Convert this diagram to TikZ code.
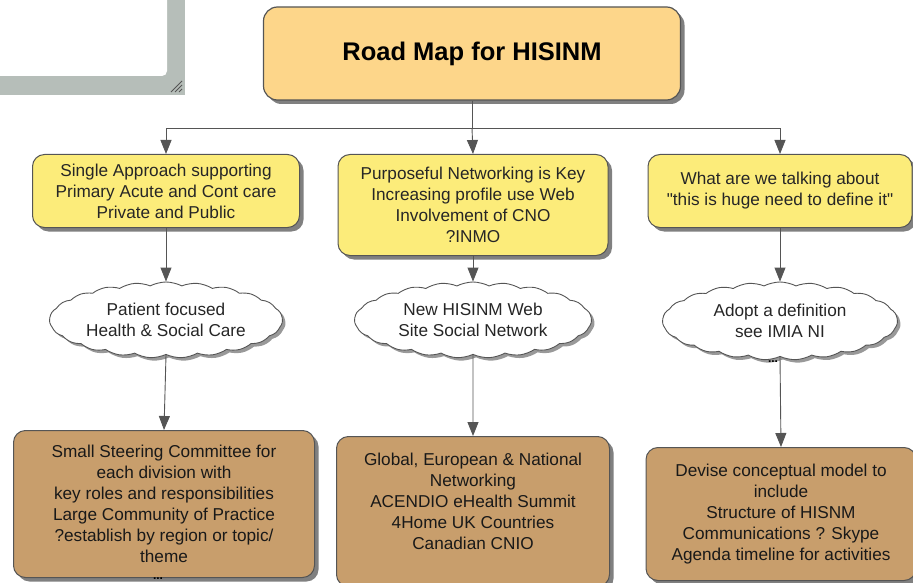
\documentclass[tikz,border=0pt]{standalone}
\usepackage{fontspec}
\setmainfont{Liberation Sans}[Ligatures=TeXOff]
\usetikzlibrary{shapes.symbols,shadows,arrows.meta}

\definecolor{headfill}{RGB}{253,214,138}
\definecolor{aimfill}{RGB}{252,236,122}
\definecolor{taskfill}{RGB}{200,158,108}
\definecolor{edgegray}{RGB}{85,85,85}
\definecolor{framegray}{RGB}{182,190,185}

\tikzstyle{boxshadow} = [drop shadow={shadow xshift=4pt, shadow yshift=-4pt, fill=black!50, opacity=1}]
\tikzstyle{headbox} = [rectangle, rounded corners=14pt, minimum width=417pt, minimum height=93pt, text centered, draw=edgegray, line width=1.2pt, fill=headfill, font=\fontsize{25.5}{30}\selectfont\bfseries, boxshadow]
\tikzstyle{aimbox} = [rectangle, rounded corners=12pt, anchor=north, align=center, draw=edgegray, line width=1pt, fill=aimfill, text=black!85, font=\fontsize{17.2}{21}\selectfont, boxshadow]
\tikzstyle{idea} = [cloud, cloud puffs=23, cloud puff arc=55, cloud ignores aspect, inner sep=0pt, minimum width=233pt, minimum height=76pt, align=center, draw=edgegray, line width=0.9pt, fill=white, text=black!85, font=\fontsize{17.2}{21}\selectfont, drop shadow={shadow xshift=3pt, shadow yshift=-3pt, fill=black!40, opacity=1}]
\tikzstyle{taskbox} = [rectangle, rounded corners=12pt, anchor=north, align=center, draw=edgegray, line width=1pt, fill=taskfill, text=black!90, font=\fontsize{17.2}{21}\selectfont, boxshadow]
\tikzstyle{more} = [inner sep=0pt, font=\fontsize{12}{12}\selectfont\bfseries]
\tikzstyle{line} = [draw=edgegray, line width=0.9pt]
\tikzstyle{arrow} = [line, -{Triangle[width=11pt,length=14pt]}]

\begin{document}
\begin{tikzpicture}[x=1pt, y=-1pt]
\useasboundingbox (0,0) rectangle (913,583);

% window corner
\fill[framegray] (0,0) rectangle (185,95);
\fill[white, rounded corners=5pt] (-10,-10) rectangle (167,76);
\draw[edgegray, line width=1pt] (171,92) -- (182,81) (175,92) -- (182,85) (179,92) -- (182,89);

\node (road) [headbox] at (472,53.5) {Road Map for HISINM};
\coordinate (fork) at (472,128);

\node (aim1) [aimbox, minimum width=267pt, minimum height=73pt] at (166,154) {Single Approach supporting\\Primary Acute and Cont care\\Private and Public};
\node (aim2) [aimbox, minimum width=270pt, minimum height=101pt] at (473,154) {Purposeful Networking is Key\\Increasing profile use Web\\Involvement of CNO\\?INMO};
\node (aim3) [aimbox, minimum width=264pt, minimum height=73pt] at (780,154) {What are we talking about\\"this is huge need to define it"};

\node (idea1) [idea] at (166,320) {Patient focused\\Health \& Social Care};
\node (idea2) [idea, minimum width=237pt] at (473,320) {New HISINM Web\\Site Social Network};
\node (idea3) [idea, minimum width=235pt, minimum height=78pt] at (780,321) {Adopt a definition\\see IMIA NI};

\node (task1) [taskbox, minimum width=301pt, minimum height=147pt] at (164,430) {Small Steering Committee for\\each division with\\key roles and responsibilities\\Large Community of Practice\\?establish by region or topic/\\theme};
\node (task2) [taskbox, minimum width=273pt, minimum height=150pt] at (473,436) {Global, European \& National\\Networking\\ACENDIO eHealth Summit\\4Home UK Countries\\Canadian CNIO\\~};
\node (task3) [taskbox, minimum width=270pt, minimum height=133pt] at (781,447) {Devise conceptual model to\\include\\Structure of HISNM\\Communications ? Skype\\Agenda timeline for activities};

\node (more1) [more] at (158,579) {...};
\node (more3) [more] at (773,362) {...};

\draw [line] (road.south) -- (fork);
\draw [arrow] (fork) -| (aim1.north);
\draw [arrow] (fork) -- (aim2.north);
\draw [arrow] (fork) -| (aim3.north);

\draw [arrow] (aim1.south) -- (idea1.north);
\draw [arrow] (aim2.south) -- (idea2.north);
\draw [arrow] (aim3.south) -- (idea3.north);

\draw [arrow] (idea1.south) -- (task1.north);
\draw [arrow] (idea2.south) -- (task2.north);
\draw [arrow] (idea3.south) -- (task3.north);

\end{tikzpicture}
\end{document}
